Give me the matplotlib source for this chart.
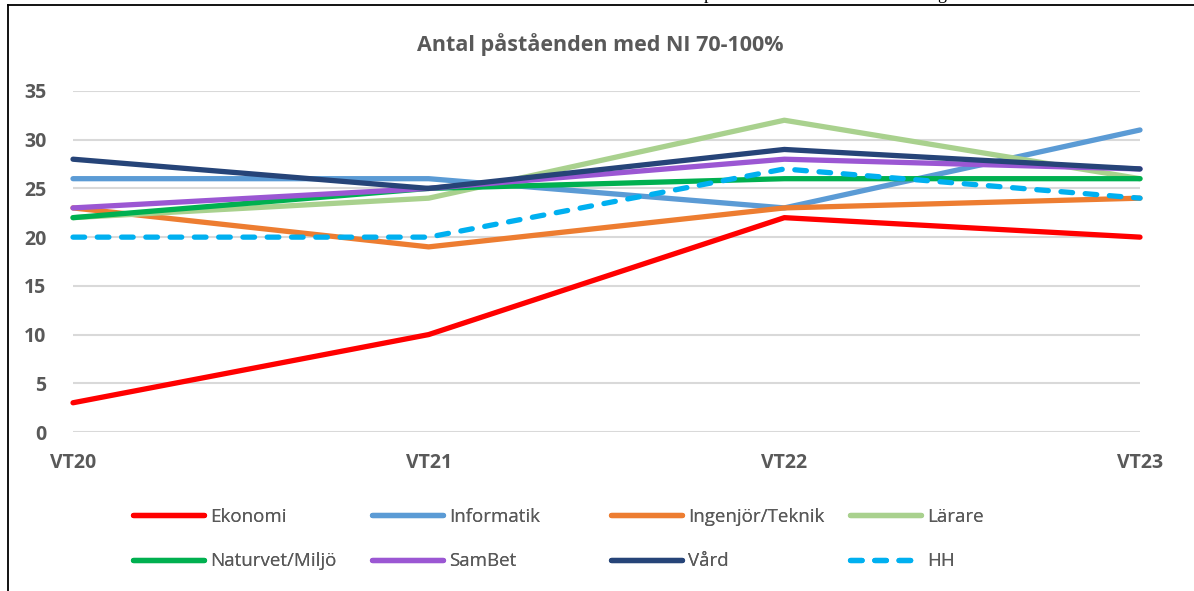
import matplotlib.pyplot as plt
from matplotlib.lines import Line2D

plt.rcParams['font.family'] = ['Open Sans', 'DejaVu Sans']

# data
terminer = ['VT20', 'VT21', 'VT22', 'VT23']
ekonomi = [3, 10, 22, 20]
informatik = [26, 26, 23, 31]
ingenjor = [23, 19, 23, 24]
larare = [22, 24, 32, 26]
naturvet = [22, 25, 26, 26]
sambet = [23, 25, 28, 27]
vard = [28, 25, 29, 27]
hh = [20, 20, 27, 24]

serier = [
    ('Ekonomi', ekonomi, '#FF0000'),
    ('Informatik', informatik, '#5B9BD5'),
    ('Ingenjör/Teknik', ingenjor, '#ED7D31'),
    ('Lärare', larare, '#A9D18E'),
    ('Naturvet/Miljö', naturvet, '#00B050'),
    ('SamBet', sambet, '#9B57D3'),
    ('Vård', vard, '#264478'),
    ('HH', hh, '#00B0F0'),
]

grey = '#595959'
W, H = 1194, 591
fig = plt.figure(figsize=(W / 100, H / 100), dpi=100)
ax = fig.add_axes([73 / W, 1 - 432 / H, (1140 - 73) / W, (432 - 91) / H])

x = range(len(terminer))
handles = []
for namn, vals, farg in serier:
    if namn == 'HH':
        ln, = ax.plot(x, vals, color=farg, lw=3.8, ls=(0, (2.2, 2.4)),
                      dash_capstyle='round', clip_on=False, zorder=3)
    else:
        ln, = ax.plot(x, vals, color=farg, lw=3.8, solid_capstyle='round',
                      solid_joinstyle='round', clip_on=False, zorder=3)
    handles.append(ln)

ax.set_xlim(0, 3)
ax.set_ylim(0, 35)
ax.set_yticks(range(0, 36, 5))
ax.set_xticks(list(x))
ax.set_xticklabels(terminer)
ax.grid(axis='y', color='#D9D9D9', lw=1.5)
ax.set_axisbelow(True)
for s in ax.spines.values():
    s.set_visible(False)
ax.tick_params(length=0, colors=grey, labelsize=14, pad=0)
ax.tick_params(axis='y', pad=19)
ax.tick_params(axis='x', pad=15)
for lab in ax.get_xticklabels() + ax.get_yticklabels():
    lab.set_fontweight('bold')

fig.text(600 / W, 1 - 45 / H, 'Antal påståenden med NI 70-100%', ha='center',
         va='center', fontsize=15.5, fontweight='bold', color=grey)

# legend, four columns of two rows
kol_x = [133, 372, 611, 850]
for i, kx in enumerate(kol_x):
    leg = fig.legend([handles[i], handles[i + 4]],
                     [serier[i][0], serier[i + 4][0]],
                     loc='upper left', bbox_to_anchor=(kx / W, 1 - 508 / H),
                     frameon=False, fontsize=13.5, handlelength=3.8,
                     handletextpad=0.3, labelspacing=1.4, borderpad=0,
                     borderaxespad=0)
    for t in leg.get_texts():
        t.set_color(grey)
    fig.add_artist(leg)

# frame of the document box
fig.add_artist(Line2D([8 / W, 8 / W], [0, 1 - 5 / H], color='black', lw=1.3))
fig.add_artist(Line2D([8 / W, 1], [1 - 5 / H, 1 - 5 / H], color='black', lw=1.3))

# cut off text from the page above
fig.text(708 / W, 1 + 1 / H, 'p', family='Liberation Serif', fontsize=13,
         va='baseline', ha='center')
fig.text(942 / W, 1 + 1 / H, 'g', family='Liberation Serif', fontsize=13,
         va='baseline', ha='center')

fig.savefig('out.png', dpi=100)
